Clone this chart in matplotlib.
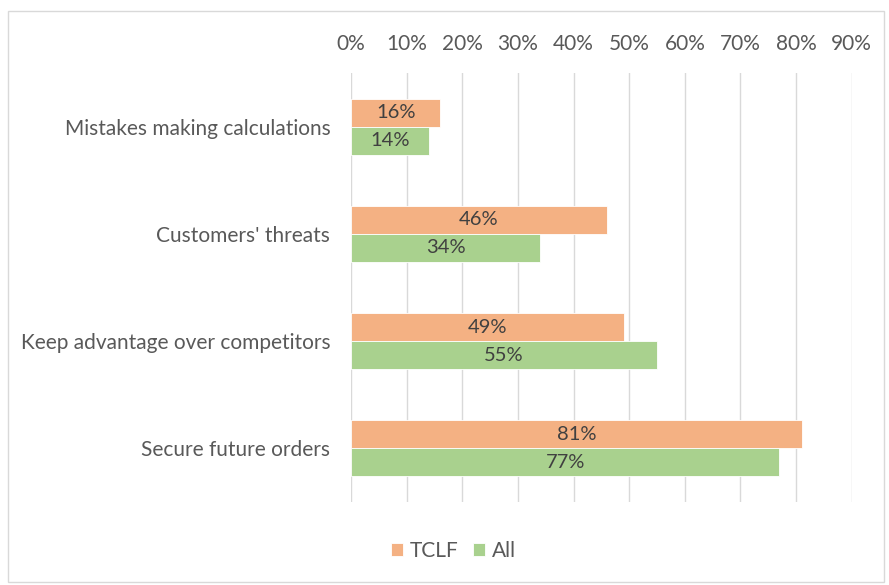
import matplotlib.pyplot as plt
import numpy as np
from matplotlib.patches import Rectangle

plt.rcParams['font.family'] = ['Lato', 'DejaVu Sans']

categories = ["Mistakes making calculations", "Customers' threats",
              "Keep advantage over competitors", "Secure future orders"]
tclf = [16, 46, 49, 81]
all_vals = [14, 34, 55, 77]
xticks = [0, 10, 20, 30, 40, 50, 60, 70, 80, 90]

orange = '#F4B183'
green = '#A9D18E'
text_c = '#595959'

fig = plt.figure(figsize=(8.89, 5.85), dpi=100)
ax = fig.add_axes([0.395, 0.142, 0.563, 0.733])

y = np.arange(len(categories))
h = 0.26
b1 = ax.barh(y - h / 2, tclf, height=h, color=orange, edgecolor='white', linewidth=0.6, label='TCLF', zorder=2)
b2 = ax.barh(y + h / 2, all_vals, height=h, color=green, edgecolor='white', linewidth=0.6, label='All', zorder=2)

for bars, vals in ((b1, tclf), (b2, all_vals)):
    for bar, v in zip(bars, vals):
        ax.text(bar.get_width() / 2, bar.get_y() + bar.get_height() / 2, f'{v}%',
                ha='center', va='center', fontsize=14.5, color='#404040', zorder=3)

ax.set_xlim(0, 90)
ax.set_ylim(len(categories) - 0.5, -0.5)
ax.set_xticks(xticks)
ax.set_xticklabels([f'{t}%' for t in xticks])
ax.xaxis.tick_top()
ax.set_yticks(y)
ax.set_yticklabels(categories)
ax.tick_params(axis='both', length=0, labelsize=15, labelcolor=text_c)
ax.tick_params(axis='x', pad=14)
ax.tick_params(axis='y', pad=15)
ax.grid(axis='x', color='#D9D9D9', linewidth=1, zorder=0)
for s in ax.spines.values():
    s.set_visible(False)

fig.legend(handles=[b1, b2], labels=['TCLF', 'All'], loc='center', bbox_to_anchor=(0.51, 0.058),
           ncol=2, frameon=False, fontsize=15, labelcolor=text_c, handlelength=0.6, handleheight=0.6,
           handletextpad=0.3, columnspacing=0.7)

fig.patches.append(Rectangle((0.009, 0.005), 0.985, 0.976, transform=fig.transFigure,
                             fill=False, edgecolor='#D9D9D9', linewidth=1))

fig.savefig('out.png', dpi=100)
